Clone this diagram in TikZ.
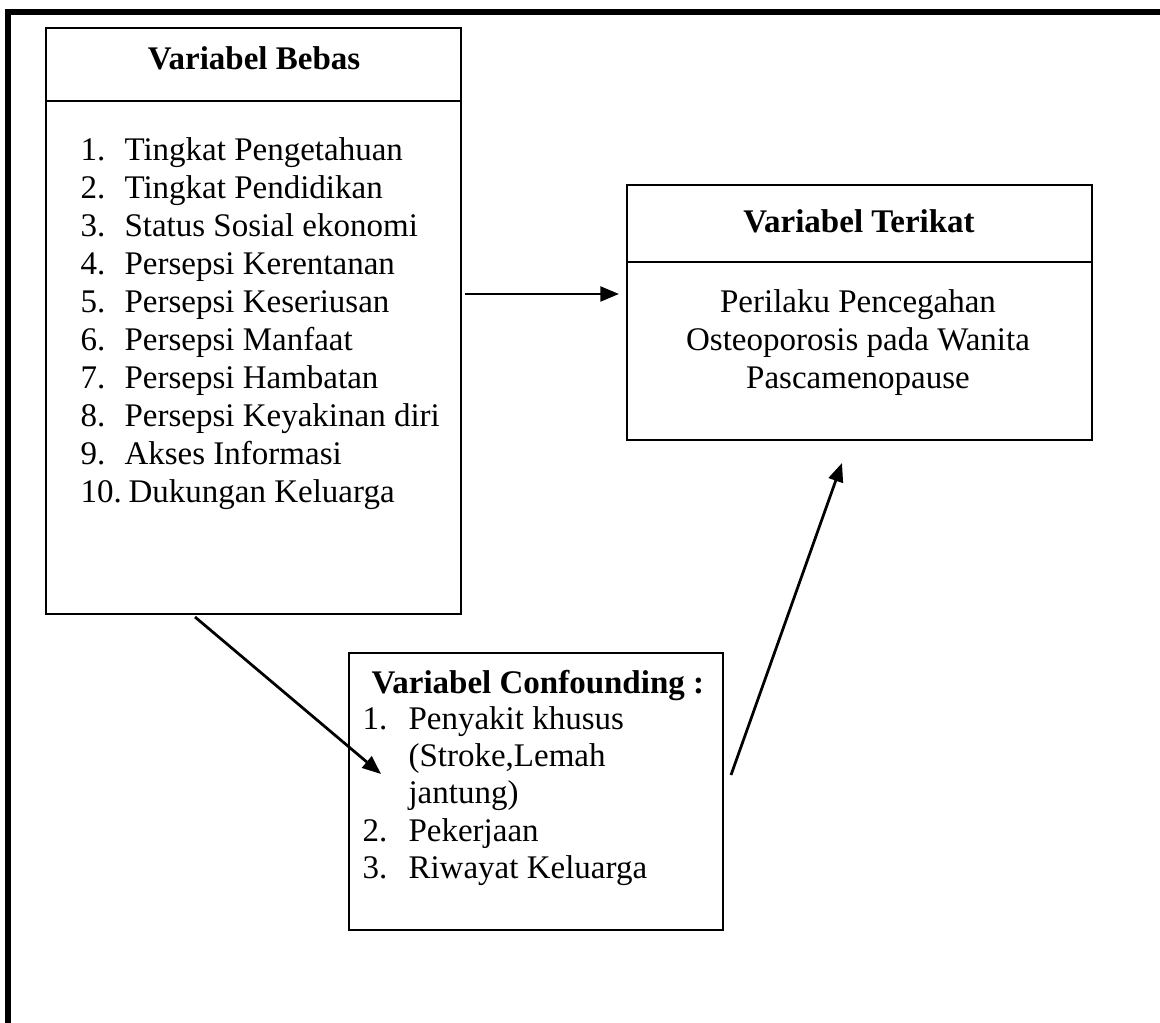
\documentclass[tikz,border=0pt]{standalone}
\usepackage{fontspec}
\setmainfont{Liberation Serif}
\usetikzlibrary{arrows.meta}
\begin{document}
\begin{tikzpicture}[x=0.3636pt,y=-0.3636pt,
  frame/.style={line width=2.2pt},
  box/.style={draw,line width=0.8pt,rectangle,inner sep=0pt,outer sep=0pt},
  divider/.style={line width=0.8pt},
  title/.style={anchor=base,inner sep=0pt,font=\fontsize{12pt}{13.8pt}\selectfont\bfseries},
  txt/.style={anchor=base,inner sep=0pt,font=\fontsize{12pt}{13.8pt}\selectfont},
  item/.style={anchor=base west,inner sep=0pt,font=\fontsize{12pt}{13.8pt}\selectfont},
  link/.style={line width=1pt,-{Triangle[length=6.8pt,width=5.4pt]}}]
\useasboundingbox (0,0) rectangle (1160,1023);
% outer frame
\draw[frame] (8,1023) -- (8,12) -- (1160,12);
% independent variables
\node[box,minimum width=415*0.3636pt,minimum height=586*0.3636pt] (bebas) at (253.5,321) {};
\draw[divider] (46,101) -- (461,101);
\node[title] (bebasT) at (254,70) {Variabel Bebas};
\foreach \n/\t [count=\k from 0] in {1./Tingkat Pengetahuan,2./Tingkat Pendidikan,3./Status Sosial ekonomi,4./Persepsi Kerentanan,5./Persepsi Keseriusan,6./Persepsi Manfaat,7./Persepsi Hambatan,8./Persepsi Keyakinan diri,9./Akses Informasi}{
  \node[item] (bn\k) at (80,161+38*\k) {\n};
  \node[item] (bt\k) at (124,161+38*\k) {\t};
}
\node[item] (bn9) at (80,503) {10.};
\node[item] (bt9) at (128,503) {Dukungan Keluarga};
% dependent variable
\node[box,minimum width=465*0.3636pt,minimum height=255*0.3636pt] (terikat) at (859.5,312.5) {};
\draw[divider] (627,262) -- (1092,262);
\node[title] (terikatT) at (859,233) {Variabel Terikat};
\node[txt] (tk1) at (858,313) {Perilaku Pencegahan};
\node[txt] (tk2) at (858,351) {Osteoporosis pada Wanita};
\node[txt] (tk3) at (858,389) {Pascamenopause};
% confounding variables
\node[box,minimum width=374*0.3636pt,minimum height=277*0.3636pt] (conf) at (536,791.5) {};
\node[item,font=\fontsize{12pt}{13.8pt}\selectfont\bfseries] (confT) at (371,694) {Variabel Confounding :};
\node[item] (cn1) at (362,730) {1.};
\node[item] (ct1) at (408,730) {Penyakit khusus};
\node[item] (ct1b) at (408,767) {(Stroke,Lemah};
\node[item] (ct1c) at (408,804) {jantung)};
\node[item] (cn2) at (362,841) {2.};
\node[item] (ct2) at (408,841) {Pekerjaan};
\node[item] (cn3) at (362,878) {3.};
\node[item] (ct3) at (408,878) {Riwayat Keluarga};
% connectors
\coordinate (a1s) at (465,294);
\coordinate (a1e) at (619,294);
\coordinate (a2s) at (195,617);
\coordinate (a2e) at (381,774);
\coordinate (a3s) at (731,775);
\coordinate (a3e) at (842,463);
\draw[link] (a1s) -- (a1e);
\draw[link] (a2s) -- (a2e);
\draw[link] (a3s) -- (a3e);
\end{tikzpicture}
\end{document}
